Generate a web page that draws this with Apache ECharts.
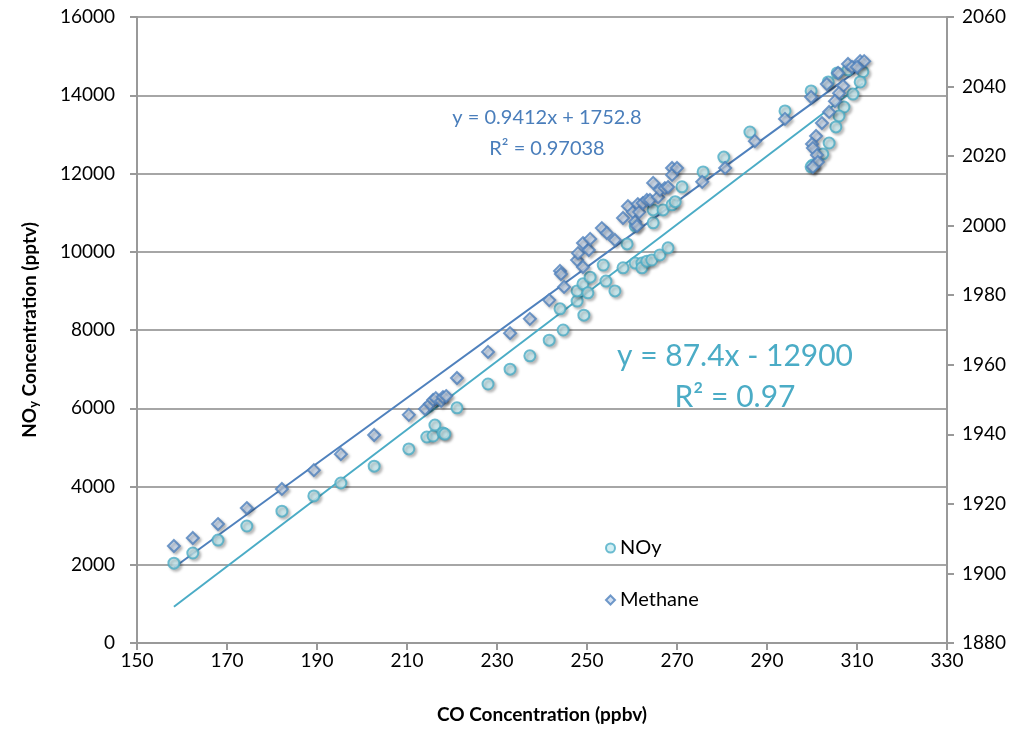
<!DOCTYPE html>
<html>
<head>
<meta charset="utf-8">
<script src="https://cdn.jsdelivr.net/npm/echarts@6/dist/echarts.min.js"></script>
<style>html,body{margin:0;padding:0;background:#fff}#c{width:1025px;height:729px}</style>
</head>
<body>
<div id="c"></div>
<script>
// ---- Data ----
const noyCO = [158.2,162.4,168.0,174.4,182.2,189.3,195.3,202.7,210.4,214.4,215.8,216.2,218.0,218.4,221.1,228.0,232.9,237.3,241.6,244.0,244.7,247.8,247.8,249.1,249.3,250.2,250.7,253.6,254.2,256.2,258.0,258.9,260.7,262.2,262.2,263.3,264.4,266.2,268.0,260.7,264.7,264.7,266.9,268.9,269.6,271.1,275.8,280.4,286.2,294.0,299.8,303.6,305.6,308.0,311.3,310.7,309.1,307.1,306.0,305.3,303.8,302.4,300.2,299.8];
const noyVal = [2040,2300,2630,2990,3370,3760,4090,4520,4960,5265,5290,5570,5370,5340,6010,6620,7000,7340,7740,8540,8000,8740,9000,9180,8380,8950,9350,9660,9250,9000,9590,10200,9710,9710,9590,9760,9790,9920,10100,10660,10740,11070,11070,11200,11280,11660,12040,12420,13060,13600,14110,14340,14570,14650,14600,14340,14030,13700,13470,13190,12780,12500,12220,12170];
const ch4CO = [158.2,162.4,168.0,174.4,182.2,189.3,195.3,202.7,210.4,214.0,215.1,215.8,216.4,217.6,218.0,218.7,221.1,228.0,232.9,237.3,241.6,244.0,244.2,244.9,247.8,248.0,249.1,250.4,250.7,249.1,253.3,254.4,256.2,258.0,259.1,260.2,260.7,261.3,261.6,261.1,262.4,263.3,264.0,264.7,265.8,266.2,267.3,268.0,268.9,268.9,270.0,275.6,280.7,287.3,294.0,299.8,303.3,305.8,308.0,308.9,310.7,311.6,310.0,306.9,306.0,305.1,303.8,302.2,300.9,300.0,300.2,301.1,301.3,300.2];
const ch4Val = [1907.9,1910.2,1914.2,1918.8,1924.3,1929.7,1934.3,1939.8,1945.6,1947.3,1948.7,1949.9,1950.4,1949.6,1950.7,1951.0,1956.2,1963.7,1969.1,1973.2,1978.6,1987.0,1986.1,1982.4,1990.1,1992.1,1995.0,1993.0,1996.2,1988.1,1999.3,1997.9,1995.9,2002.2,2005.6,2003.9,2001.1,2006.2,2003.9,1999.9,2006.5,2007.4,2007.4,2012.3,2008.2,2010.3,2010.8,2011.1,2016.6,2014.6,2016.6,2012.6,2016.6,2024.3,2030.7,2037.0,2040.7,2043.9,2046.5,2045.6,2047.3,2047.3,2045.6,2040.2,2038.1,2035.8,2032.7,2029.5,2025.8,2023.5,2022.3,2020.3,2018.3,2016.9];
// Trendline equations as shown on the chart
const noyFit = {slope: 87.4, intercept: -12900};
const ch4Fit = {slope: 0.9412, intercept: 1752.8};
const labels = {
  noyEq: 'y = 87.4x - 12900', noyR2: 'R² = 0.97',
  ch4Eq: 'y = 0.9412x + 1752.8', ch4R2: 'R² = 0.97038'
};
const seriesNames = ['NOy', 'Methane'];

function zip(a, b) { return a.map((v, i) => [v, b[i]]); }
function fitLine(xs, fit) {
  const lo = Math.min(...xs), hi = Math.max(...xs);
  return [[lo, fit.slope * lo + fit.intercept], [hi, fit.slope * hi + fit.intercept]];
}
const plain = v => String(v);

const FONT = 'Lato';
const noyColor = '#4bacc6', ch4Color = '#4f81bd';
const shadow = {shadowBlur: 3, shadowOffsetX: 2, shadowOffsetY: 2, shadowColor: 'rgba(0,0,0,0.3)'};

const chart = echarts.init(document.getElementById('c'));
chart.setOption({
  animation: false,
  textStyle: {fontFamily: FONT},
  grid: {left: 137, right: 78, top: 17, bottom: 86},
  legend: {
    data: seriesNames, orient: 'vertical', left: 600, top: 533, itemGap: 32,
    itemWidth: 9, itemHeight: 9,
    textStyle: {fontSize: 20, color: '#000', fontFamily: FONT}
  },
  xAxis: {
    type: 'value', min: 150, max: 330, interval: 20,
    name: 'CO Concentration (ppbv)', nameLocation: 'middle', nameGap: 62,
    nameTextStyle: {fontSize: 19, fontWeight: 'bold', color: '#000', fontFamily: FONT},
    axisLine: {show: true, onZero: false, lineStyle: {color: '#999', width: 2}},
    axisTick: {show: true, length: 7, lineStyle: {color: '#999', width: 2}},
    axisLabel: {fontSize: 19, color: '#000', margin: 8, fontFamily: FONT, formatter: plain},
    splitLine: {show: false}
  },
  yAxis: [{
    type: 'value', min: 0, max: 16000, interval: 2000, position: 'left',
    name: '{a|NO}{b|y}{a| Concentration (pptv)}', nameLocation: 'middle', nameGap: 97, nameRotate: 90,
    nameTextStyle: {rich: {
      a: {fontSize: 19, fontWeight: 'bold', color: '#000', fontFamily: FONT},
      b: {fontSize: 13, fontWeight: 'bold', color: '#000', fontFamily: FONT, verticalAlign: 'bottom', padding: [8, 0, 0, 0]}
    }},
    axisLine: {show: true, lineStyle: {color: '#999', width: 2}},
    axisTick: {show: true, length: 7, lineStyle: {color: '#999', width: 2}},
    axisLabel: {fontSize: 19, color: '#000', margin: 22, fontFamily: FONT, formatter: plain},
    splitLine: {show: true, lineStyle: {color: '#a6a6a6', width: 2}}
  }, {
    type: 'value', min: 1880, max: 2060, interval: 20, position: 'right',
    axisLine: {show: true, lineStyle: {color: '#999', width: 2}},
    axisTick: {show: true, length: 7, lineStyle: {color: '#999', width: 2}},
    axisLabel: {fontSize: 19, color: '#000', margin: 15, fontFamily: FONT, formatter: plain},
    splitLine: {show: false}
  }],
  series: [{
    name: 'NOy trend', type: 'line', yAxisIndex: 0, data: fitLine(noyCO, noyFit),
    symbol: 'none', lineStyle: {color: noyColor, width: 2}, z: 1, silent: true
  }, {
    name: 'Methane trend', type: 'line', yAxisIndex: 1, data: fitLine(ch4CO, ch4Fit),
    symbol: 'none', lineStyle: {color: ch4Color, width: 2}, z: 1, silent: true
  }, {
    name: seriesNames[0], type: 'scatter', yAxisIndex: 0, data: zip(noyCO, noyVal),
    symbol: 'circle', symbolSize: 11, z: 3,
    itemStyle: Object.assign({color: '#c8ebf1', borderColor: noyColor, borderWidth: 2}, shadow)
  }, {
    name: seriesNames[1], type: 'scatter', yAxisIndex: 1, data: zip(ch4CO, ch4Val),
    symbol: 'diamond', symbolSize: 12, z: 4,
    itemStyle: Object.assign({color: '#c9d9ef', borderColor: ch4Color, borderWidth: 2}, shadow)
  }],
  graphic: [
    {type: 'text', style: {text: labels.ch4Eq, x: 547, y: 118, align: 'center', verticalAlign: 'middle', fontSize: 20, fill: '#4a7ebb', fontFamily: FONT}},
    {type: 'text', style: {text: labels.ch4R2, x: 547, y: 149, align: 'center', verticalAlign: 'middle', fontSize: 20, fill: '#4a7ebb', fontFamily: FONT}},
    {type: 'text', style: {text: labels.noyEq, x: 735, y: 356, align: 'center', verticalAlign: 'middle', fontSize: 30, fill: noyColor, fontFamily: FONT}},
    {type: 'text', style: {text: labels.noyR2, x: 735, y: 397, align: 'center', verticalAlign: 'middle', fontSize: 30, fill: noyColor, fontFamily: FONT}}
  ]
});
</script>
</body>
</html>
